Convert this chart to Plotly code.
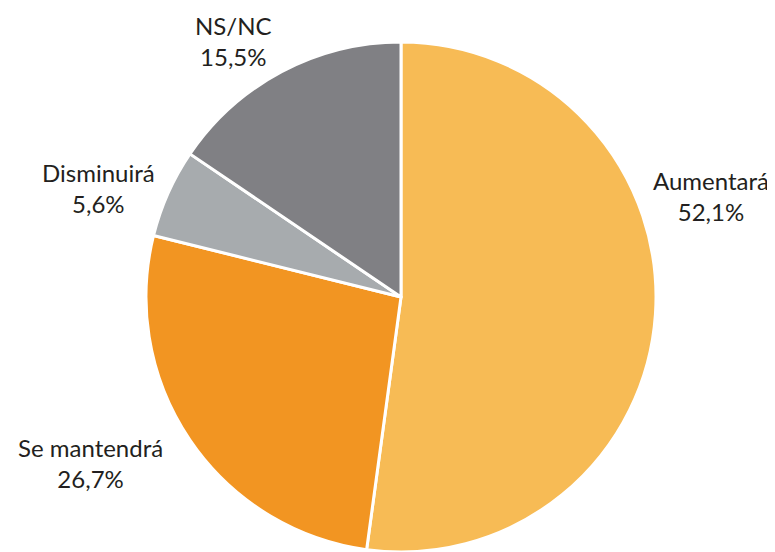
import plotly.graph_objects as go

labels = ['Aumentará', 'Se mantendrá', 'Disminuirá', 'NS/NC']
values = [52.1, 26.7, 5.6, 15.5]
colors = ['#F7BB55', '#F29522', '#A7ABAE', '#808084']

# label centres in window pixels (the original labels are placed by hand)
label_pos = [(711, 196), (90, 463), (98, 188), (234, 41)]

# the page body adds an 8px margin, so draw on a figure 8px smaller and shift
OFF = 8
W, H = 775 - OFF, 552 - OFF

fig = go.Figure(go.Pie(
    labels=labels,
    values=values,
    sort=False,
    direction='clockwise',
    rotation=0,
    textinfo='none',
    hoverinfo='label+percent',
    marker=dict(colors=colors, line=dict(color='white', width=3)),
    domain=dict(x=[(146 - OFF) / W, (656 - OFF) / W],
                y=[1 - (552 - OFF) / H, 1 - (42 - OFF) / H]),
))

for name, val, (px_, py_) in zip(labels, values, label_pos):
    fig.add_annotation(
        text=f'{name}<br>{val:.1f}%'.replace('.', ','),
        x=(px_ - OFF) / W, y=1 - (py_ - OFF) / H,
        xref='paper', yref='paper',
        xanchor='center', yanchor='middle',
        showarrow=False,
        font=dict(family='Lato', size=24, color='#231F20'),
    )

fig.update_layout(
    width=W, height=H,
    margin=dict(l=0, r=0, t=0, b=0),
    showlegend=False,
    paper_bgcolor='white',
    plot_bgcolor='white',
)

fig.write_html('out.html')
